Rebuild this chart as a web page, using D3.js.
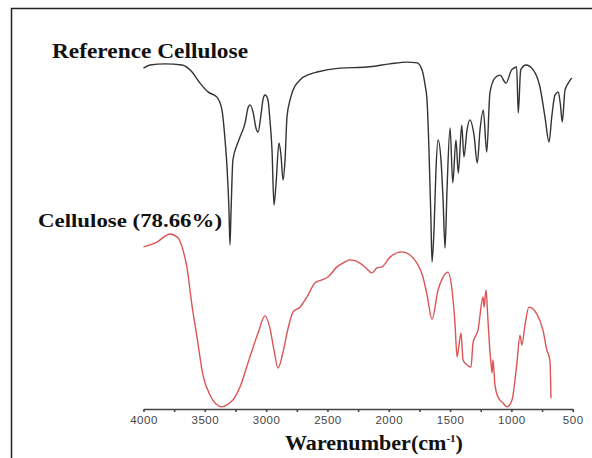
<!DOCTYPE html>
<html>
<head>
<meta charset="utf-8">
<script src="https://cdn.jsdelivr.net/npm/d3@7"></script>
<style>
  body { margin: 0; background: #fff; }
  svg { display: block; }
</style>
</head>
<body>
<div id="chart"></div>
<script>

// wavenumber (cm-1) and relative transmittance (arbitrary units)
var refWavenumber = [ 4000, 3947, 3825, 3686, 3604, 3539, 3474, 3401, 3360, 3335, 3319, 3303, 3295, 3287, 3271, 3238, 3213, 3172, 3148, 3132, 3107, 3083, 3066, 3042, 3026, 3009, 2985, 2969, 2952, 2936, 2920, 2895, 2879, 2862, 2846, 2830, 2805, 2781, 2724, 2642, 2585, 2398, 2178, 1991, 1851, 1769, 1729, 1704, 1688, 1672, 1656, 1647, 1631, 1615, 1598, 1574, 1557, 1541, 1525, 1500, 1478, 1452, 1433, 1405, 1387, 1362, 1338, 1305, 1278, 1256, 1229, 1201, 1175, 1134, 1093, 1044, 998, 957, 944, 924, 881, 822, 767, 726, 693, 671, 645, 618, 600, 585, 563, 536, 508 ];
var refTransmittance = [ 97.4, 98.3, 98.6, 98.3, 96.3, 93.1, 90.6, 89.1, 85.4, 76.9, 69.1, 56.9, 46.9, 55.4, 71.1, 75.4, 77.7, 81.7, 86.0, 86.9, 84.9, 80.3, 79.1, 84.0, 88.3, 89.7, 88.3, 82.6, 74.0, 58.3, 64.0, 76.0, 72.6, 65.4, 71.1, 83.4, 88.3, 91.1, 94.0, 95.7, 96.3, 97.4, 97.7, 98.6, 99.1, 98.9, 96.9, 92.6, 88.3, 74.0, 54.0, 42.0, 51.1, 68.3, 76.9, 71.1, 59.7, 46.0, 62.6, 80.3, 64.6, 76.9, 67.4, 81.1, 72.0, 79.7, 82.6, 78.3, 70.3, 79.7, 85.4, 73.4, 90.3, 94.6, 95.4, 93.1, 96.9, 97.7, 84.6, 96.9, 98.3, 96.9, 92.0, 83.4, 76.3, 83.4, 89.7, 90.6, 86.9, 82.0, 91.1, 93.1, 94.6 ];

var sampleWavenumber = [ 4000, 3890, 3784, 3719, 3678, 3645, 3605, 3564, 3515, 3458, 3409, 3360, 3311, 3270, 3213, 3132, 3066, 3009, 2969, 2936, 2903, 2862, 2830, 2781, 2724, 2667, 2602, 2545, 2496, 2422, 2373, 2316, 2235, 2186, 2137, 2096, 2055, 1990, 1892, 1827, 1770, 1721, 1688, 1647, 1598, 1557, 1517, 1484, 1460, 1443, 1427, 1411, 1394, 1362, 1329, 1313, 1272, 1231, 1223, 1207, 1191, 1174, 1166, 1158, 1150, 1134, 1109, 1068, 1036, 995, 955, 930, 914, 889, 857, 792, 743, 711, 686, 677 ];
var sampleTransmittance = [ 46.3, 47.7, 50.0, 48.9, 45.4, 40.3, 29.7, 20.6, 9.7, 4.0, 1.4, 0.6, 1.4, 2.6, 6.3, 14.9, 21.7, 26.6, 23.1, 16.9, 11.7, 16.3, 21.7, 27.7, 29.1, 32.0, 36.0, 36.9, 37.7, 40.6, 41.7, 42.6, 41.7, 40.3, 38.9, 40.3, 40.6, 43.4, 44.9, 44.0, 41.7, 37.7, 32.6, 25.7, 34.0, 37.7, 39.1, 34.0, 24.6, 14.9, 18.3, 21.7, 14.0, 12.6, 12.0, 18.9, 22.6, 32.0, 29.1, 34.0, 25.4, 16.0, 13.1, 10.3, 14.0, 6.9, 3.4, 1.7, 0.6, 2.6, 13.1, 21.1, 18.3, 24.0, 29.1, 27.1, 22.6, 16.9, 14.0, 3.1 ];

var tickValues = d3.range( 500, 4001, 250 );
var labelledTicks = [ 4000, 3500, 3000, 2500, 2000, 1500, 1000, 500 ];

var width = 592, height = 458;

var svg = d3.select( '#chart' ).append( 'svg' )
  .attr( 'width', width )
  .attr( 'height', height );

// frame (only top and left sides are visible in the picture)
svg.append( 'path' )
  .attr( 'd', 'M11.5,460V8.5H600' )
  .attr( 'fill', 'none' )
  .attr( 'stroke', '#222' )
  .attr( 'stroke-width', 1.5 );

var xScale = d3.scaleLinear()
  .domain( [ 4000, 500 ] )
  .range( [ 143.5, 572.7 ] );

var yScale = d3.scaleLinear()
  .domain( [ 0, 100 ] )
  .range( [ 409, 59 ] );

var xAxis = d3.axisBottom( xScale )
  .tickValues( tickValues )
  .tickSize( 3 )
  .tickSizeOuter( 0 )
  .tickFormat( d => labelledTicks.includes( d ) ? d : '' );

var gx = svg.append( 'g' )
  .attr( 'transform', 'translate(0,409)' )
  .call( xAxis );

gx.select( '.domain' )
  .attr( 'stroke', '#444' )
  .attr( 'stroke-width', 1.6 );
gx.selectAll( '.tick line' )
  .attr( 'stroke', '#444' )
  .attr( 'stroke-width', 1.6 );
gx.selectAll( '.tick text' )
  .attr( 'y', 7 )
  .attr( 'fill', '#444' )
  .style( 'font-family', '"Liberation Sans", Arial, sans-serif' )
  .style( 'font-size', '11.5px' )
  .style( 'letter-spacing', '0.5px' );

var line = d3.line()
  .x( d => xScale( d[ 0 ] ) )
  .y( d => yScale( d[ 1 ] ) )
  .curve( d3.curveMonotoneX );

svg.append( 'path' )
  .datum( d3.zip( refWavenumber, refTransmittance ) )
  .attr( 'd', line )
  .attr( 'fill', 'none' )
  .attr( 'stroke', '#333' )
  .attr( 'stroke-width', 1.4 );

svg.append( 'path' )
  .datum( d3.zip( sampleWavenumber, sampleTransmittance ) )
  .attr( 'd', line )
  .attr( 'fill', 'none' )
  .attr( 'stroke', '#dc5454' )
  .attr( 'stroke-width', 1.4 );

// labels
var serif = '"Liberation Serif", "Times New Roman", serif';

svg.append( 'text' )
  .attr( 'x', 52 )
  .attr( 'y', 58 )
  .attr( 'textLength', 196 )
  .attr( 'lengthAdjust', 'spacingAndGlyphs' )
  .style( 'font-family', serif )
  .style( 'font-weight', 'bold' )
  .style( 'font-size', '20px' )
  .attr( 'fill', '#111' )
  .text( 'Reference Cellulose' );

svg.append( 'text' )
  .attr( 'x', 38 )
  .attr( 'y', 227 )
  .attr( 'textLength', 184 )
  .attr( 'lengthAdjust', 'spacingAndGlyphs' )
  .style( 'font-family', serif )
  .style( 'font-weight', 'bold' )
  .style( 'font-size', '19px' )
  .attr( 'fill', '#111' )
  .text( 'Cellulose (78.66%)' );

var title = svg.append( 'text' )
  .attr( 'x', 285 )
  .attr( 'y', 450 )
  .attr( 'textLength', 178 )
  .attr( 'lengthAdjust', 'spacingAndGlyphs' )
  .style( 'font-family', serif )
  .style( 'font-weight', 'bold' )
  .style( 'font-size', '20px' )
  .attr( 'fill', '#111' );
title.append( 'tspan' ).text( 'Warenumber(cm' );
title.append( 'tspan' )
  .attr( 'dy', -8 )
  .style( 'font-size', '10px' )
  .text( '-1' );
title.append( 'tspan' )
  .attr( 'dy', 8 )
  .text( ')' );

</script>
</body>
</html>
